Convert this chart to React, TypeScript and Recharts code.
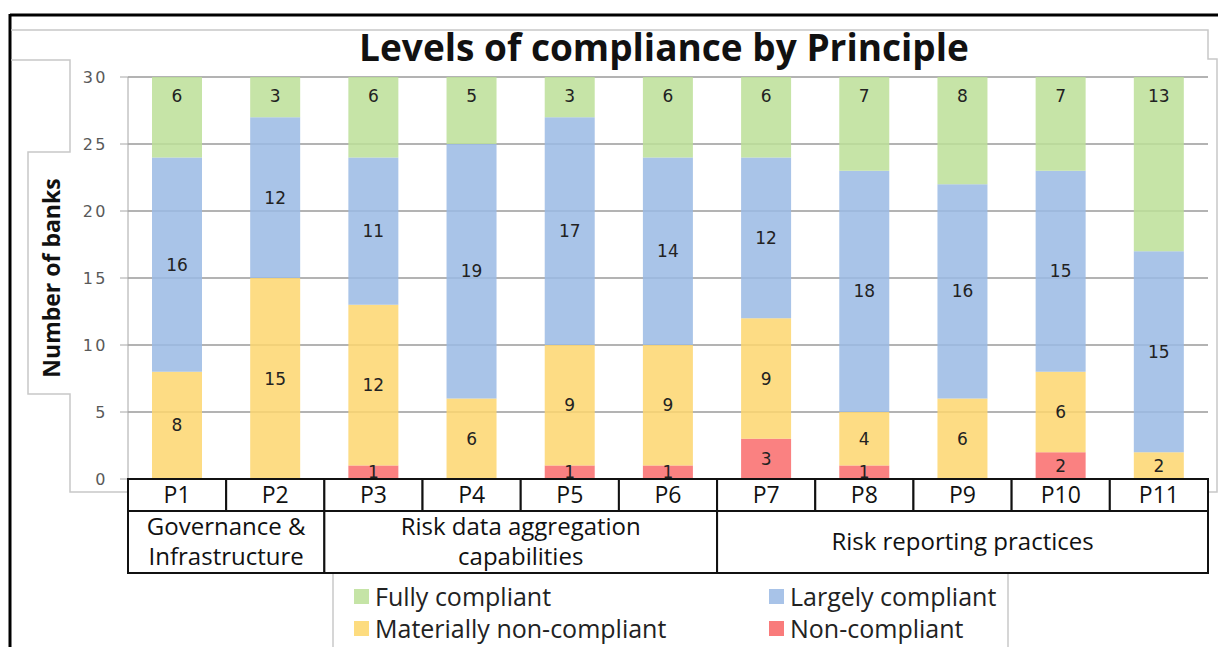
import * as React from "react";
import {
  Bar,
  BarChart,
  CartesianGrid,
  LabelList,
  Legend,
  XAxis,
  YAxis,
} from "recharts";

const principles = ["P1", "P2", "P3", "P4", "P5", "P6", "P7", "P8", "P9", "P10", "P11"];
const nonCompliant = [0, 0, 1, 0, 1, 1, 3, 1, 0, 2, 0];
const materiallyNon = [8, 15, 12, 6, 9, 9, 9, 4, 6, 6, 2];
const largely = [16, 12, 11, 19, 17, 14, 12, 18, 16, 15, 15];
const fully = [6, 3, 6, 5, 3, 6, 6, 7, 8, 7, 13];
const yTicks = [0, 5, 10, 15, 20, 25, 30];

const groups = [
  { start: 0, count: 2, lines: ["Governance &", "Infrastructure"] },
  { start: 2, count: 4, lines: ["Risk data aggregation", "capabilities"] },
  { start: 6, count: 5, lines: ["Risk reporting practices"] },
];

// colours are set a bit stronger and drawn at 0.85 opacity so the grid shows through like the original
const series = [
  { key: "non", name: "Non-compliant", color: "#f96b6b", swatch: "#f97b7b", pos: "center" },
  { key: "mat", name: "Materially non-compliant", color: "#fdd66e", swatch: "#fddc7f", pos: "center" },
  { key: "lar", name: "Largely compliant", color: "#9abae4", swatch: "#a8c3e8", pos: "center" },
  { key: "ful", name: "Fully compliant", color: "#bcdf98", swatch: "#c5e4a6", pos: "insideTop" },
];

const data = principles.map((p, i) => ({
  name: p,
  non: nonCompliant[i],
  mat: materiallyNon[i],
  lar: largely[i],
  ful: fully[i],
}));

const W = 1218;
const H = 647;
const PLOT_LEFT = 128;
const PLOT_RIGHT = 1208;
const BAND = (PLOT_RIGHT - PLOT_LEFT) / principles.length;
const TXT = "'Open Sans', Lato, sans-serif";

const CellTick = (props: any) => {
  const { x, y, payload } = props;
  return (
    <g>
      <rect x={x - BAND / 2} y={y} width={BAND} height={32} fill="#fff" stroke="#111" strokeWidth={2} />
      <text x={x} y={y + 24} textAnchor="middle" fontSize={23} fontFamily={TXT} fill="#111">
        {payload.value}
      </text>
    </g>
  );
};

const GroupTick = (props: any) => {
  const { x, y, index } = props;
  const g = groups.find((gr) => gr.start === index);
  if (!g) return null;
  const left = x - BAND / 2;
  const w = BAND * g.count;
  const cx = left + w / 2;
  const lh = 30;
  const firstY = y + 31 - ((g.lines.length - 1) * lh) / 2 + 8;
  return (
    <g>
      <rect x={left} y={y} width={w} height={62} fill="#fff" stroke="#111" strokeWidth={2} />
      {g.lines.map((l, k) => (
        <text key={k} x={cx} y={firstY + k * lh} textAnchor="middle" fontSize={24} fontFamily={TXT} fill="#111">
          {l}
        </text>
      ))}
    </g>
  );
};

const legendOrder = ["ful", "lar", "mat", "non"];

const LegendBox = () => (
  <div
    style={{
      display: "grid",
      gridTemplateColumns: "415px 240px",
      rowGap: 4,
      paddingLeft: 21,
      paddingTop: 8,
      fontFamily: TXT,
      fontSize: 25,
      color: "#222",
    }}
  >
    {legendOrder.map((k) => {
      const s = series.find((x) => x.key === k)!;
      return (
        <div key={k} style={{ display: "flex", alignItems: "center", height: 28, whiteSpace: "nowrap" }}>
          <span style={{ width: 15, height: 15, background: s.swatch, marginRight: 6, display: "inline-block" }} />
          {s.name}
        </div>
      );
    })}
  </div>
);

const YLabel = (props: any) => {
  const vb = props.viewBox;
  const cx = 51;
  const cy = vb.y + vb.height / 2;
  return (
    <text
      x={cx}
      y={cy}
      transform={`rotate(-90 ${cx} ${cy})`}
      textAnchor="middle"
      dominantBaseline="central"
      fontSize={23}
      fontWeight="bold"
      fontFamily={TXT}
      fill="#111"
    >
      Number of banks
    </text>
  );
};

const hideZero = (v: any) => (v ? v : "");

const App = () => {
  return (
    <div style={{ position: "absolute", left: 0, top: 0, width: W, height: H, background: "#fff" }}>
      <svg width={W} height={H} style={{ position: "absolute", left: 0, top: 0 }}>
        <line x1={10} y1={15} x2={W} y2={15} stroke="#000" strokeWidth={3} />
        <line x1={10} y1={14} x2={10} y2={H} stroke="#000" strokeWidth={3} />
        <polyline
          points={`11,30 1208,30 1208,59 1217,59 1217,492 1190,492`}
          fill="none"
          stroke="#c8c8c8"
          strokeWidth={1.5}
        />
        <polyline
          points={`11,60 70,60 70,152 28,152 28,394 70,394 70,492 128,492`}
          fill="none"
          stroke="#c8c8c8"
          strokeWidth={1.5}
        />
        <line x1={333} y1={574} x2={333} y2={H} stroke="#c8c8c8" strokeWidth={1.5} />
        <line x1={1008} y1={574} x2={1008} y2={H} stroke="#c8c8c8" strokeWidth={1.5} />
        <text x={664} y={61} textAnchor="middle" fontSize={37} fontWeight="bold" fontFamily={TXT} fill="#111">
          Levels of compliance by Principle
        </text>
      </svg>
      <div style={{ position: "absolute", left: 0, top: 0 }}>
        <BarChart
          width={W}
          height={H}
          data={data}
          margin={{ top: 77, right: W - PLOT_RIGHT, left: 68, bottom: 1 }}
          barSize={50}
        >
          <CartesianGrid vertical={false} stroke="#9a9a9a" strokeWidth={1.5} />
          <YAxis
            domain={[0, 30]}
            ticks={yTicks}
            width={60}
            tickSize={8}
            tickMargin={12}
            tickLine={{ stroke: "#a6a6a6" }}
            axisLine={{ stroke: "#a6a6a6" }}
            tick={{ fontSize: 16, fill: "#595959", fontFamily: "'DejaVu Sans', sans-serif", letterSpacing: 2.5 }}
            label={<YLabel />}
          />
          <XAxis
            dataKey="name"
            height={32}
            axisLine={false}
            tickLine={false}
            tickSize={0}
            tickMargin={0}
            interval={0}
            tick={<CellTick />}
          />
          <XAxis
            xAxisId="grp"
            dataKey="name"
            height={62}
            axisLine={false}
            tickLine={false}
            tickSize={0}
            tickMargin={0}
            interval={0}
            tick={<GroupTick />}
          />
          <Legend
            content={<LegendBox />}
            wrapperStyle={{ position: "absolute", left: 333, top: 574, width: 675, height: 73 }}
          />
          {series.map((s) => (
            <Bar
              key={s.key}
              dataKey={s.key}
              name={s.name}
              stackId="a"
              fill={s.color}
              fillOpacity={0.85}
              isAnimationActive={false}
            >
              <LabelList
                dataKey={s.key}
                position={s.pos as any}
                offset={13}
                formatter={hideZero}
                fontSize={17}
                fill="#222"
                fontFamily="'DejaVu Sans', sans-serif"
              />
            </Bar>
          ))}
        </BarChart>
      </div>
    </div>
  );
};

export default App;
